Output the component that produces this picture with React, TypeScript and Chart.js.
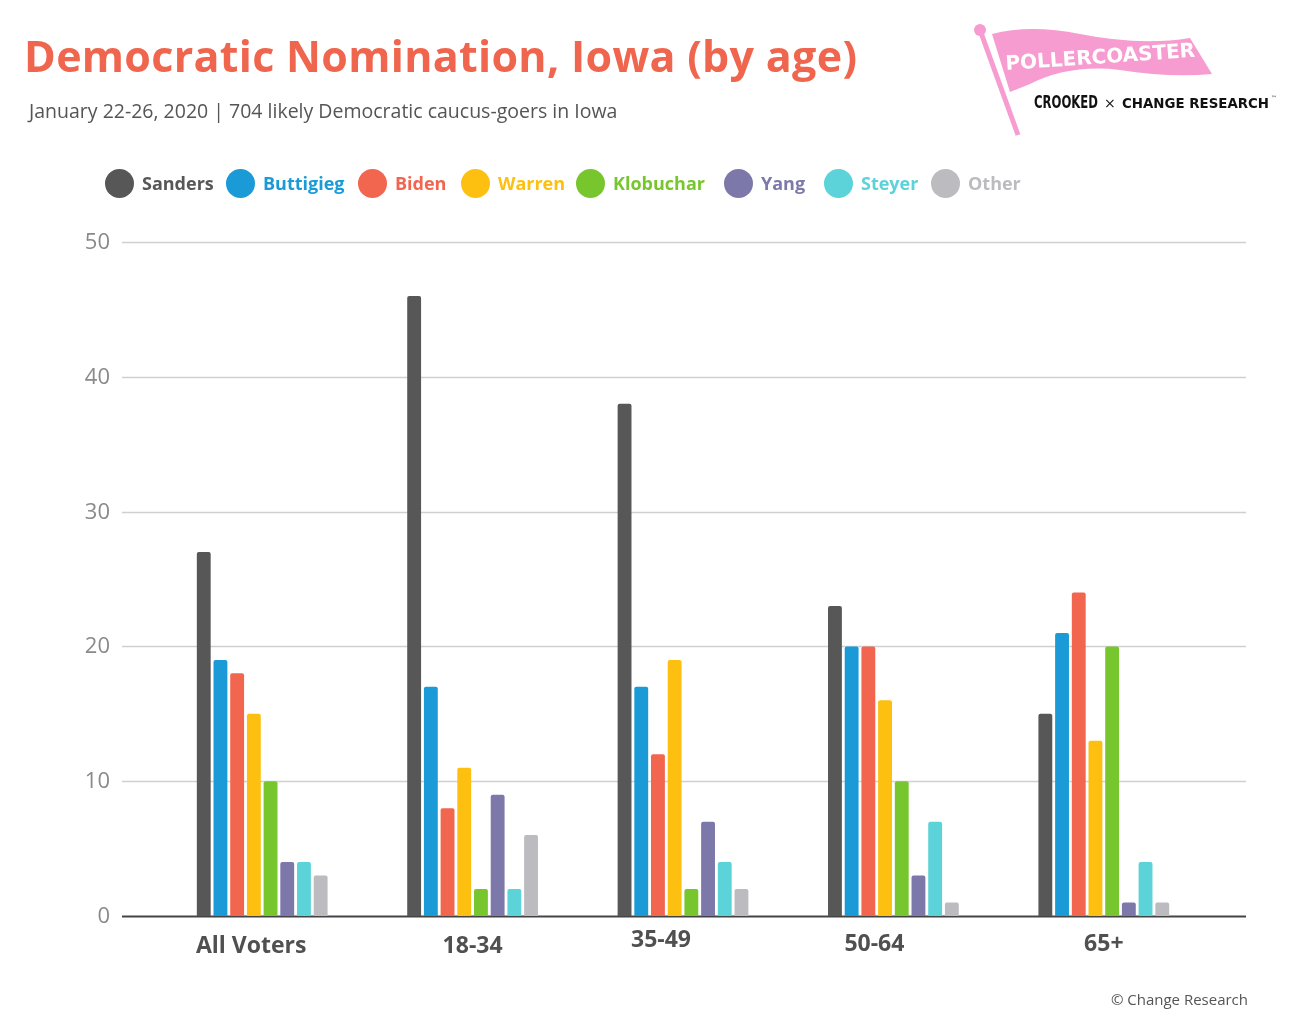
import React, { useEffect, useRef } from "react";
import { Chart, registerables } from "chart.js";
Chart.register(...registerables);

const categories = ["All Voters", "18-34", "35-49", "50-64", "65+"];
const seriesNames = ["Sanders", "Buttigieg", "Biden", "Warren", "Klobuchar", "Yang", "Steyer", "Other"];
const seriesColors = ["#575757", "#1a9bd7", "#f2654e", "#fdc010", "#77c62e", "#7c79aa", "#5bd3d9", "#bcbcc0"];
const sanders = [27, 46, 38, 23, 15];
const buttigieg = [19, 17, 17, 20, 21];
const biden = [18, 8, 12, 20, 24];
const warren = [15, 11, 19, 16, 13];
const klobuchar = [10, 2, 2, 10, 20];
const yang = [4, 9, 7, 3, 1];
const steyer = [4, 2, 4, 7, 4];
const other = [3, 6, 2, 1, 1];
const seriesValues = [sanders, buttigieg, biden, warren, klobuchar, yang, steyer, other];
const yTicks = [0, 10, 20, 30, 40, 50];
const labelYOffsets = [30, 30, 24, 28, 28];
const labelXOffsets = [-11, 0, -22, -19, 0];

const FONT = "'Open Sans', 'Noto Sans', sans-serif";

export default function App() {
  const ref = useRef<HTMLCanvasElement>(null);
  useEffect(() => {
    const overlay = {
      id: "overlay",
      beforeDatasetsDraw(chart: any) {
        const ctx = chart.ctx;
        const y = chart.scales.y;
        ctx.save();
        ctx.font = `500 22px ${FONT}`;
        ctx.fillStyle = "#8a8a8a";
        ctx.textAlign = "right";
        ctx.textBaseline = "middle";
        for (const t of yTicks) {
          const py = Math.round(y.getPixelForValue(t)) + 0.5;
          ctx.strokeStyle = t === 0 ? "#444" : "#d0d0d0";
          ctx.lineWidth = t === 0 ? 2 : 1.5;
          ctx.beginPath();
          ctx.moveTo(122, py);
          ctx.lineTo(1246, py);
          ctx.stroke();
          ctx.fillText(String(t), 110, py);
        }
        ctx.restore();
      },
      afterDatasetsDraw(chart: any) {
        const ctx = chart.ctx;
        const x = chart.scales.x;
        const y = chart.scales.y;
        ctx.save();
        ctx.font = `bold 23px ${FONT}`;
        ctx.fillStyle = "#505050";
        ctx.textAlign = "center";
        ctx.textBaseline = "middle";
        categories.forEach((c, i) => {
          ctx.fillText(c, x.getPixelForValue(i) + labelXOffsets[i], y.getPixelForValue(0) + labelYOffsets[i]);
        });
        ctx.restore();
      },
    };
    const chart = new Chart(ref.current!, {
      type: "bar",
      data: {
        labels: categories,
        datasets: seriesNames.map((n, i) => ({
          label: n,
          data: seriesValues[i],
          backgroundColor: seriesColors[i],
          borderRadius: 2,
          borderSkipped: "bottom",
          categoryPercentage: 0.635,
          barPercentage: 0.83,
        })),
      },
      options: {
        animation: false,
        responsive: false,
        layout: { padding: { left: 157, right: 81, top: 242, bottom: 112 } },
        plugins: { legend: { display: false }, tooltip: { enabled: false } },
        scales: {
          x: { display: false },
          y: { display: false, min: 0, max: 50 },
        },
      },
      plugins: [overlay],
    });
    return () => chart.destroy();
  }, []);

  const legendX = [105, 226, 358, 461, 576, 724, 824, 931];
  return (
    <div style={{ position: "absolute", left: 0, top: 0, width: 1290, height: 1028, background: "#fff", fontFamily: FONT, overflow: "hidden" }}>
      <canvas ref={ref} width={1290} height={1028} style={{ position: "absolute", left: 0, top: 0 }} />
      <div style={{ position: "absolute", left: 24, top: 26, fontSize: 43, fontWeight: 700, color: "#f0654d", whiteSpace: "nowrap", letterSpacing: 0.3 }}>
        Democratic Nomination, Iowa (by age)
      </div>
      <div style={{ position: "absolute", left: 29, top: 97, fontSize: 19.5, color: "#555", whiteSpace: "nowrap" }}>
        January 22-26, 2020 | 704 likely Democratic caucus-goers in Iowa
      </div>
      {seriesNames.map((n, i) => (
        <div key={n} style={{ position: "absolute", left: legendX[i], top: 168, height: 30, display: "flex", alignItems: "center", whiteSpace: "nowrap" }}>
          <span style={{ width: 29, height: 29, borderRadius: "50%", background: seriesColors[i], display: "inline-block", marginRight: 8 }} />
          <span style={{ fontSize: 18, fontWeight: 700, color: seriesColors[i] }}>{n}</span>
        </div>
      ))}
      <svg style={{ position: "absolute", left: 970, top: 20 }} width={310} height={120}>
        <line x1={10} y1={10} x2={48} y2={115} stroke="#f79cd0" strokeWidth={5} />
        <circle cx={10} cy={10} r={6} fill="#f79cd0" />
        <path d="M22 14 Q60 4 110 14 Q170 26 220 18 L242 54 Q200 58 150 50 Q100 44 60 64 L40 72 Z" fill="#f79cd0" />
        <text x={36} y={50} fill="#fff" fontSize={20} fontWeight={700} fontFamily="DejaVu Sans" transform="rotate(-4 36 50)">POLLERCOASTER</text>
        <text x={64} y={88} fill="#111" fontSize={17} fontWeight={700} fontFamily="'DejaVu Sans Condensed', sans-serif" textLength={64} lengthAdjust="spacingAndGlyphs">CROOKED</text>
        <text x={134} y={88} fill="#111" fontSize={14} fontFamily="DejaVu Sans">×</text>
        <text x={152} y={88} fill="#111" fontSize={14} fontWeight={700} fontFamily="DejaVu Sans" textLength={147} lengthAdjust="spacingAndGlyphs">CHANGE RESEARCH</text>
        <text x={301} y={80} fill="#111" fontSize={6} fontFamily="DejaVu Sans">™</text>
      </svg>
      <div style={{ position: "absolute", right: 42, top: 989, fontSize: 15, color: "#555", whiteSpace: "nowrap" }}>
        © Change Research
      </div>
    </div>
  );
}
